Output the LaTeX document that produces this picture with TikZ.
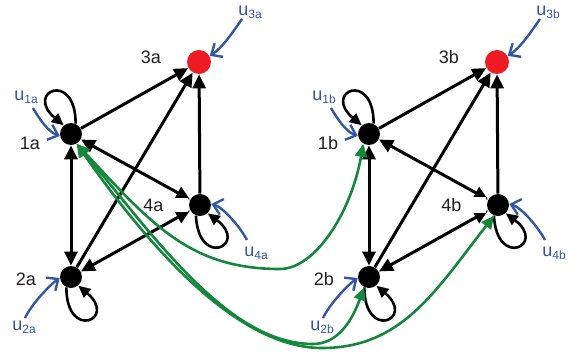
\documentclass[tikz,border=0pt]{standalone}
\usepackage{fontspec}
\setmainfont{Liberation Sans}
\usetikzlibrary{arrows.meta}
\definecolor{nred}{RGB}{237,28,36}
\definecolor{ublue}{RGB}{50,85,165}
\definecolor{cgreen}{RGB}{20,135,60}
\definecolor{txt}{RGB}{35,31,32}
\newcommand{\usub}[1]{u\raisebox{-1.7pt}{\fontsize{6}{7}\selectfont #1}}
\newcommand{\subsys}[2]{%
\begin{scope}[shift={(#2,0)}]
 \node[dot] (n1#1) at (71,-134) {};
 \node[rdot] (n3#1) at (199,-62) {};
 \node[dot] (n4#1) at (200,-205) {};
 \node[dot] (n2#1) at (71,-277) {};
 \node[lbl] (l1#1) at (30,-143) {1#1};
 \node[lbl] (l3#1) at (151,-57) {3#1};
 \node[lbl] (l2#1) at (26,-279) {2#1};
 \node[ulbl] (u1#1) at (14,-100) {\usub{1#1}};
 \node[ulbl] (u3#1) at (238,-15) {\usub{3#1}};
 \node[ulbl] (u4#1) at (244,-256) {\usub{4#1}};
 \node[ulbl] (u2#1) at (12,-330) {\usub{2#1}};
 \coordinate (s1#1) at (33,-108);
 \coordinate (s3#1) at (242,-19);
 \coordinate (s4#1) at (247,-240);
 \coordinate (s2#1) at (25,-318);
 \draw[barr] (n1#1) -- (n3#1);
 \draw[barr] (n2#1) -- (n3#1);
 \draw[barr] (n4#1) -- (n3#1);
 \draw[darr] (n1#1) -- (n2#1);
 \draw[darr] (n1#1) -- (n4#1);
 \draw[darr] (n2#1) -- (n4#1);
 \draw[lp] (n1#1.66) .. controls +(90:54) and +(140:52) .. (n1#1.130);
 \draw[lp] (n4#1.-111) .. controls +(-87:54) and +(-37:52) .. (n4#1.-47);
 \draw[lp] (n2#1.-114) .. controls +(-90:54) and +(-40:52) .. (n2#1.-50);
 \draw[uarr] (s3#1) .. controls +(235:15) and +(32:15) .. (n3#1.30);
 \draw[uarr] (s1#1) .. controls +(-60:14) and +(160:12) .. (n1#1.190);
 \draw[uarr] (s4#1) .. controls +(118:15) and +(-15:12) .. (n4#1.5);
 \draw[uarr] (s2#1) .. controls +(65:15) and +(215:12) .. (n2#1.185);
 \node[boxlbl] (l4#1) at (143,-205) {4#1};
\end{scope}}
\begin{document}
\begin{tikzpicture}[x=0.5pt,y=0.5pt,
 dot/.style={circle,fill=black,inner sep=0pt,minimum size=11pt},
 rdot/.style={circle,fill=nred,inner sep=0pt,minimum size=12pt},
 lbl/.style={font=\fontsize{9}{10.8}\selectfont,text=txt,inner sep=0pt},
 boxlbl/.style={lbl,fill=white,anchor=west,inner xsep=0pt,inner ysep=0.6pt,text width=22.5pt,align=left},
 ulbl/.style={font=\fontsize{9}{10.8}\selectfont,text=ublue,inner sep=0pt,anchor=base west},
 barr/.style={line width=1.5pt,-{Triangle[length=7pt,width=6.5pt]}},
 darr/.style={line width=1.5pt,{Triangle[length=7pt,width=6.5pt]}-{Triangle[length=7pt,width=6.5pt]}},
 lp/.style={line width=1.3pt,-{Triangle[length=6pt,width=5.5pt]}},
 uarr/.style={ublue,line width=1.2pt,-{Straight Barb[length=4.5pt,width=8pt]}},
 garr/.style={cgreen,line width=1.3pt,{Triangle[length=6.5pt,width=6pt]}-{Triangle[length=6.5pt,width=6pt]}}]
\useasboundingbox (0,0) rectangle (579,-354);
\subsys{a}{0}
\subsys{b}{298}
\coordinate (wA) at (280,-269);
\coordinate (wB) at (313,-344);
\coordinate (wC) at (322,-348);
\draw[garr] (n1a.-60) .. controls +(-47:110) and +(180:90) .. (wA) .. controls +(0:35) and +(260:70) .. (n1b.-120);
\draw[garr] (n1a.-60) .. controls +(-50:120) and +(180:85) .. (wB) .. controls +(0:25) and +(250:35) .. (n2b.-115);
\draw[garr] (n1a.-60) .. controls +(-55:125) and +(180:85) .. (wC) .. controls +(0:80) and +(232:95) .. (n4b.-110);
\end{tikzpicture}
\end{document}
